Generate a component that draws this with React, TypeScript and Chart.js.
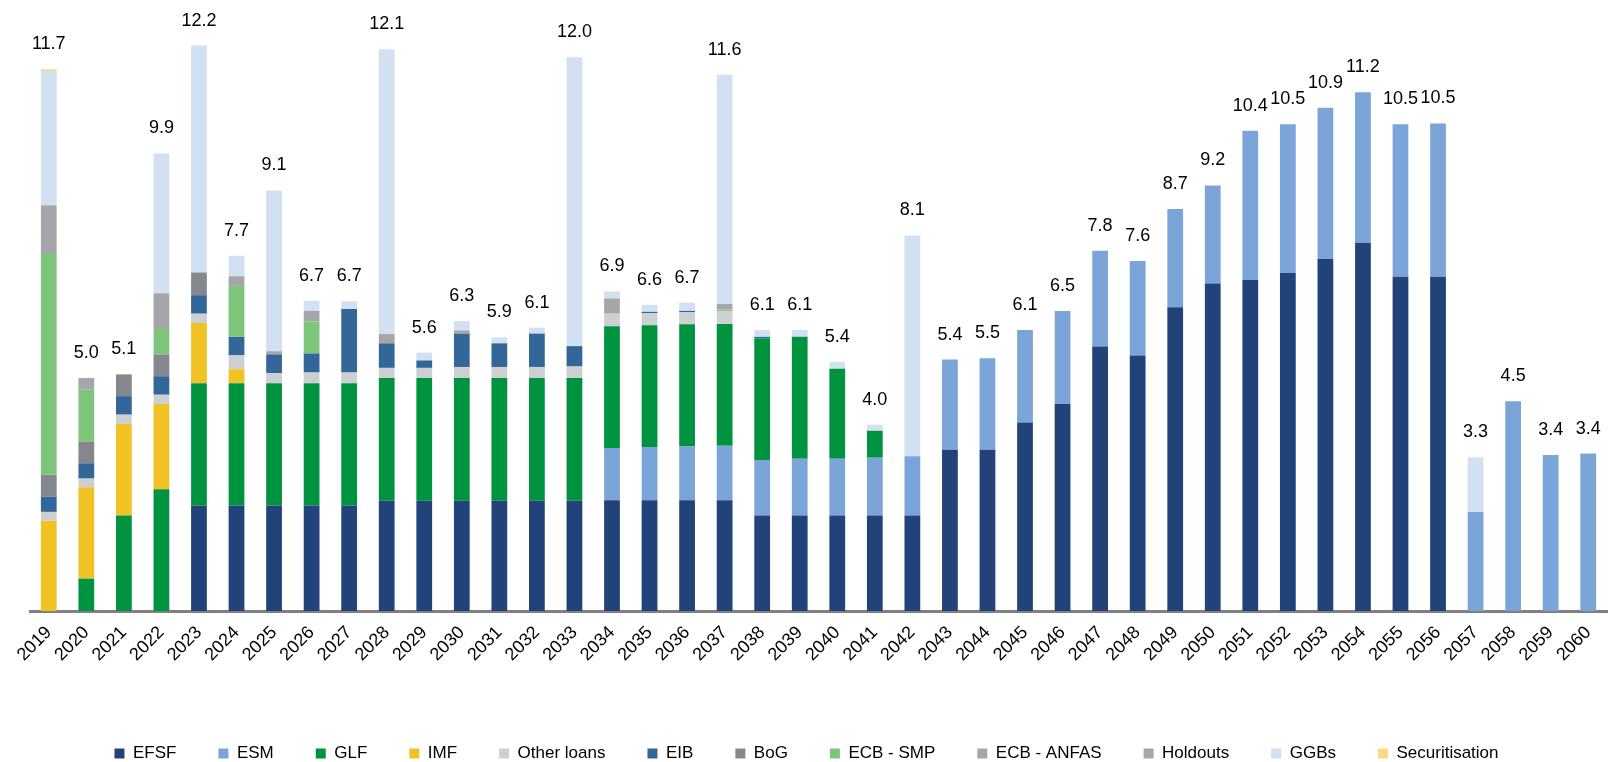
import React, { useEffect, useRef } from "react";
import { Chart, registerables } from "chart.js";

Chart.register(...registerables);

const years = [
  "2019", "2020", "2021", "2022", "2023", "2024", "2025", "2026", "2027", "2028",
  "2029", "2030", "2031", "2032", "2033", "2034", "2035", "2036", "2037", "2038",
  "2039", "2040", "2041", "2042", "2043", "2044", "2045", "2046", "2047", "2048",
  "2049", "2050", "2051", "2052", "2053", "2054", "2055", "2056", "2057", "2058",
  "2059", "2060",
];

const efsf = [0, 0, 0, 0, 2.28, 2.28, 2.28, 2.28, 2.28, 2.38, 2.38, 2.38, 2.38, 2.38, 2.38, 2.39, 2.39, 2.39, 2.39, 2.06, 2.06, 2.06, 2.06, 2.06, 3.48, 3.48, 4.07, 4.47, 5.71, 5.52, 6.56, 7.07, 7.15, 7.3, 7.6, 7.95, 7.22, 7.22, 0, 0, 0, 0];
const esm = [0, 0, 0, 0, 0, 0, 0, 0, 0, 0, 0, 0, 0, 0, 0, 1.13, 1.15, 1.17, 1.18, 1.2, 1.23, 1.23, 1.25, 1.28, 1.95, 1.98, 2.0, 2.01, 2.07, 2.04, 2.12, 2.12, 3.22, 3.21, 3.27, 3.25, 3.29, 3.31, 2.14, 4.53, 3.37, 3.4];
const glf = [0, 0.7, 2.06, 2.63, 2.64, 2.64, 2.64, 2.64, 2.64, 2.65, 2.65, 2.65, 2.65, 2.65, 2.65, 2.63, 2.63, 2.63, 2.63, 2.63, 2.63, 1.94, 0.58, 0, 0, 0, 0, 0, 0, 0, 0, 0, 0, 0, 0, 0, 0, 0, 0, 0, 0, 0];
const imf = [1.95, 1.97, 1.98, 1.84, 1.3, 0.3, 0, 0, 0, 0, 0, 0, 0, 0, 0, 0, 0, 0, 0, 0, 0, 0, 0, 0, 0, 0, 0, 0, 0, 0, 0, 0, 0, 0, 0, 0, 0, 0, 0, 0, 0, 0];
const otherLoans = [0.19, 0.19, 0.2, 0.2, 0.2, 0.3, 0.22, 0.23, 0.23, 0.22, 0.22, 0.24, 0.24, 0.24, 0.25, 0.27, 0.26, 0.26, 0.28, 0, 0, 0, 0.03, 0, 0, 0, 0, 0, 0, 0, 0, 0, 0, 0, 0, 0, 0, 0, 0, 0, 0, 0];
const eib = [0.33, 0.33, 0.4, 0.4, 0.4, 0.4, 0.4, 0.41, 1.37, 0.53, 0.16, 0.72, 0.51, 0.72, 0.44, 0, 0.03, 0.03, 0, 0.03, 0, 0, 0, 0, 0, 0, 0, 0, 0, 0, 0, 0, 0, 0, 0, 0, 0, 0, 0, 0, 0, 0];
const bog = [0.47, 0.47, 0.47, 0.47, 0.49, 0, 0, 0, 0, 0, 0, 0, 0, 0, 0, 0, 0, 0, 0, 0, 0, 0, 0, 0, 0, 0, 0, 0, 0, 0, 0, 0, 0, 0, 0, 0, 0, 0, 0, 0, 0, 0];
const ecbSmp = [4.79, 1.13, 0, 0.55, 0, 1.1, 0, 0.69, 0, 0, 0, 0, 0, 0, 0, 0, 0, 0, 0.03, 0, 0, 0, 0, 0, 0, 0, 0, 0, 0, 0, 0, 0, 0, 0, 0, 0, 0, 0, 0, 0, 0, 0];
const ecbAnfas = [1.03, 0.24, 0, 0.77, 0, 0.21, 0.07, 0.23, 0, 0, 0, 0, 0, 0, 0, 0, 0, 0, 0, 0, 0, 0, 0, 0, 0, 0, 0, 0, 0, 0, 0, 0, 0, 0, 0, 0, 0, 0, 0, 0, 0, 0];
const holdouts = [0, 0, 0, 0, 0, 0, 0, 0, 0, 0.2, 0, 0.07, 0, 0, 0, 0.33, 0, 0, 0.12, 0, 0, 0, 0, 0, 0, 0, 0, 0, 0, 0, 0, 0, 0, 0, 0, 0, 0, 0, 0, 0, 0, 0];
const ggbs = [2.9, 0, 0, 3.02, 4.9, 0.44, 3.47, 0.22, 0.17, 6.15, 0.17, 0.2, 0.13, 0.13, 6.24, 0.15, 0.15, 0.18, 4.95, 0.15, 0.15, 0.15, 0.1, 4.77, 0, 0, 0, 0, 0, 0, 0, 0, 0, 0, 0, 0, 0, 0, 1.18, 0, 0, 0];
const securitisation = [0.04, 0, 0, 0, 0, 0, 0, 0, 0, 0, 0, 0, 0, 0, 0, 0, 0, 0, 0, 0, 0, 0, 0, 0, 0, 0, 0, 0, 0, 0, 0, 0, 0, 0, 0, 0, 0, 0, 0, 0, 0, 0];

const seriesNames = ["EFSF", "ESM", "GLF", "IMF", "Other loans", "EIB", "BoG", "ECB - SMP", "ECB - ANFAS", "Holdouts", "GGBs", "Securitisation"];
const seriesValues = [efsf, esm, glf, imf, otherLoans, eib, bog, ecbSmp, ecbAnfas, holdouts, ggbs, securitisation];
const seriesColors = ["#22437A", "#7BA5D9", "#00933F", "#F0C224", "#CDD0D3", "#336699", "#84888D", "#7DC57A", "#A6A6AA", "#A6A6A6", "#D1E1F1", "#FFD97F"];

const FONT = "Arial, 'Liberation Sans', sans-serif";

const totalsPlugin = {
  id: "totals",
  afterDatasetsDraw(chart: any) {
    const { ctx, scales } = chart;
    const x = scales.x;
    const y = scales.y;
    ctx.save();
    ctx.font = `18px ${FONT}`;
    ctx.fillStyle = "#000000";
    ctx.textAlign = "center";
    ctx.textBaseline = "middle";
    years.forEach((_, i) => {
      const total = seriesValues.reduce((s, arr) => s + arr[i], 0);
      ctx.fillText(total.toFixed(1), x.getPixelForValue(i), y.getPixelForValue(total) - 25);
    });
    ctx.restore();
  },
};

export default function App() {
  const ref = useRef<HTMLCanvasElement>(null);

  useEffect(() => {
    if (!ref.current) return;
    const chart = new Chart(ref.current, {
      type: "bar",
      data: {
        labels: years,
        datasets: seriesNames.map((name, k) => ({
          label: name,
          data: seriesValues[k],
          backgroundColor: seriesColors[k],
          borderWidth: 0,
          categoryPercentage: 1,
          barPercentage: 0.42,
        })),
      },
      options: {
        animation: false,
        responsive: false,
        layout: { padding: { left: 0, right: 0, top: 9, bottom: 0 } },
        plugins: {
          legend: {
            position: "bottom",
            labels: {
              boxWidth: 10,
              boxHeight: 10,
              padding: 42,
              color: "#000000",
              font: { family: FONT, size: 17 },
            },
          },
          tooltip: { enabled: false },
        },
        scales: {
          x: {
            stacked: true,
            grid: { display: false, drawTicks: false },
            border: { display: true, color: "#808080", width: 3 },
            ticks: {
              autoSkip: false,
              maxRotation: 45,
              minRotation: 45,
              color: "#000000",
              padding: 11,
              font: { family: FONT, size: 18 },
            },
            afterFit: (s: any) => {
              s.height = 92;
              s.paddingLeft = 30;
              s.paddingRight = 6;
            },
          },
          y: {
            stacked: true,
            display: false,
            min: 0,
            max: 13,
          },
        },
      },
      plugins: [totalsPlugin],
    });
    return () => chart.destroy();
  }, []);

  return (
    <div style={{ position: "fixed", left: 0, top: 0, width: 1613, height: 772, background: "#ffffff" }}>
      <canvas ref={ref} width={1613} height={772} style={{ display: "block" }} />
    </div>
  );
}
